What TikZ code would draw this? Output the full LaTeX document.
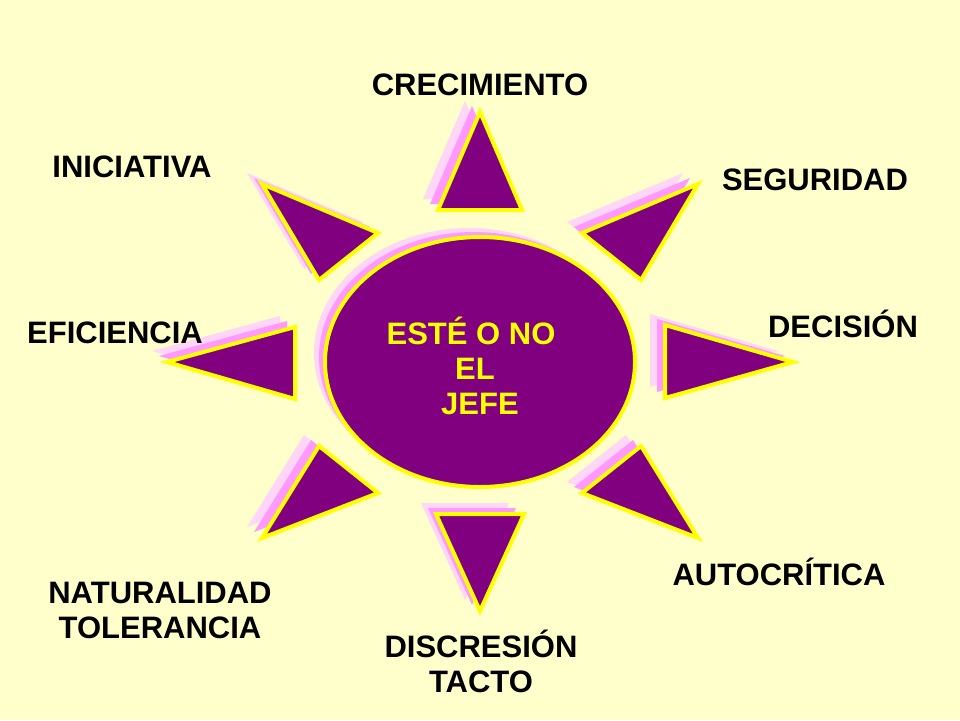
\documentclass[tikz,border=0pt]{standalone}
\usepackage{fontspec}
\setmainfont{Liberation Sans}
\definecolor{paper}{HTML}{FFFFCC}
\definecolor{plum}{HTML}{800080}
\definecolor{sun}{HTML}{FFFF00}
\definecolor{pinkA}{HTML}{FF99FF}
\definecolor{pinkB}{HTML}{FFD6F5}

\begin{document}
\begin{tikzpicture}[x=1pt, y=-1pt]
\tikzstyle{ray}=[fill=plum, draw=sun, line width=4pt, line join=miter]
\tikzstyle{shadowA}=[fill=pinkA]
\tikzstyle{shadowB}=[fill=pinkB]
\tikzstyle{label}=[inner sep=0pt, font=\fontsize{31}{35}\selectfont\bfseries, align=center]
  \fill[paper] (0,0) rectangle (960,720);
  \useasboundingbox (0,0) rectangle (960,720);
  % centre and its shadows
  \fill[shadowB] (469,353) ellipse [x radius=155, y radius=125];
  \fill[shadowA] (474,357) ellipse [x radius=155, y radius=125];
  \draw[ray] (480,362) ellipse [x radius=155, y radius=125];
  % rays
  \foreach \pa/\pb/\pc in {{(480,112)}/{(438,210)}/{(522,210)},
                           {(698,184)}/{(582,233)}/{(641,280)},
                           {(665,325)}/{(793,362)}/{(665,398)},
                           {(641,446)}/{(582,493)}/{(698,538)},
                           {(436,514)}/{(524,514)}/{(480,611)},
                           {(319,446)}/{(378,493)}/{(262,538)},
                           {(167,362)}/{(295,327)}/{(295,399)},
                           {(262,184)}/{(378,233)}/{(319,280)}} {
    \fill[shadowB, xshift=-15pt, yshift=11pt] \pa -- \pb -- \pc -- cycle;
    \fill[shadowA, xshift=-8pt, yshift=6pt] \pa -- \pb -- \pc -- cycle;
    \draw[ray] \pa -- \pb -- \pc -- cycle;
  }
  \node[label, text=sun] (jefe) at (471,366) {EST\'E O NO\\\hspace*{8pt}EL\\\hspace*{18pt}JEFE};
  \node[label, anchor=base] (crec) at (480,95) {CRECIMIENTO};
  \node[label, anchor=base] (inic) at (132,177) {INICIATIVA};
  \node[label, anchor=base] (segu) at (815,190) {SEGURIDAD};
  \node[label, anchor=base] (deci) at (843,337) {DECISI\'ON};
  \node[label, anchor=base] (efic) at (115,343) {EFICIENCIA};
  \node[label, anchor=base] (auto) at (779,585) {AUTOCR\'ITICA};
  \node[label, anchor=north] (natu) at (160,582) {NATURALIDAD\\TOLERANCIA};
  \node[label, anchor=north] (disc) at (481,630) {DISCRESI\'ON\\TACTO};
\end{tikzpicture}
\end{document}
